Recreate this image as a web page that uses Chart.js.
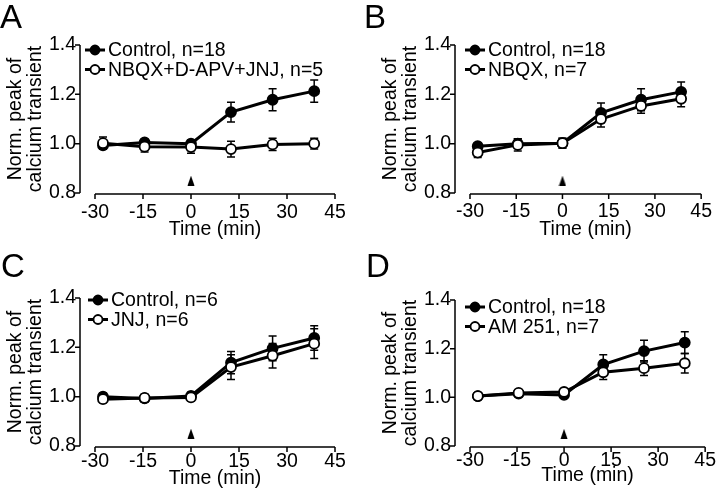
<!DOCTYPE html>
<html>
<head>
<meta charset="utf-8">
<script src="https://cdn.jsdelivr.net/npm/chart.js@4.4.0/dist/chart.umd.min.js"></script>
<style>
  html, body { margin: 0; padding: 0; background: #fff; }
  #wrap { position: relative; width: 720px; height: 492px; overflow: hidden; }
  .panel { position: absolute; width: 360px; height: 246px; }
  .panel canvas { position: absolute; left: 0; top: 0; }
  .tag { position: absolute; font: 33px "Liberation Sans", Arial, sans-serif; line-height: 30px; color: #000; }
</style>
</head>
<body>
<div id="wrap">
  <div class="panel" style="left:0;top:0"><canvas id="cA" width="360" height="246"></canvas><div class="tag" style="left:0;top:2px">A</div></div>
  <div class="panel" style="left:360px;top:0"><canvas id="cB" width="360" height="246"></canvas><div class="tag" style="left:4px;top:2px">B</div></div>
  <div class="panel" style="left:0;top:246px"><canvas id="cC" width="360" height="246"></canvas><div class="tag" style="left:1px;top:5px">C</div></div>
  <div class="panel" style="left:360px;top:246px"><canvas id="cD" width="360" height="246"></canvas><div class="tag" style="left:6px;top:5px">D</div></div>
</div>
<script>
// time points (min) shared by all panels
const time = [-27.5, -14.5, 0, 12.5, 25.5, 38.5];
const xTicks = [-30, -15, 0, 15, 30, 45];
const yTicks = [0.8, 1.0, 1.2, 1.4];
const arrowTime = [0];
const arrowLevel = [0.85];

// A
const ctrlA = [0.993, 1.005, 1.0, 1.128, 1.178, 1.213];
const ctrlAErr = [0.012, 0.012, 0.015, 0.04, 0.045, 0.045];
const trtA = [1.002, 0.988, 0.986, 0.978, 0.997, 1.0];
const trtAErr = [0.025, 0.022, 0.025, 0.032, 0.025, 0.022];
// B
const ctrlB = [0.99, 1.0, 1.002, 1.125, 1.178, 1.21];
const ctrlBErr = [0.01, 0.02, 0.02, 0.04, 0.045, 0.04];
const trtB = [0.964, 0.995, 1.002, 1.1, 1.153, 1.182];
const trtBErr = [0.02, 0.025, 0.02, 0.032, 0.03, 0.032];
// C
const ctrlC = [1.0, 0.993, 1.003, 1.138, 1.196, 1.238];
const ctrlCErr = [0.015, 0.015, 0.015, 0.045, 0.05, 0.05];
const trtC = [0.99, 0.995, 0.997, 1.12, 1.166, 1.215];
const trtCErr = [0.015, 0.015, 0.015, 0.05, 0.05, 0.06];
// D
const ctrlD = [1.005, 1.015, 1.01, 1.135, 1.19, 1.225];
const ctrlDErr = [0.01, 0.01, 0.01, 0.04, 0.045, 0.045];
const trtD = [1.005, 1.018, 1.022, 1.103, 1.12, 1.14];
const trtDErr = [0.01, 0.01, 0.01, 0.03, 0.03, 0.04];

const FONT = '"Liberation Sans", Arial, sans-serif';
const FS = 19.5;

// tall arrowhead used as point style
const arrowImg = document.createElement("canvas");
arrowImg.width = 8;
arrowImg.height = 10;
(function () {
  const c = arrowImg.getContext("2d");
  c.fillStyle = "#000";
  c.beginPath();
  c.moveTo(4, 0);
  c.lineTo(7.5, 10);
  c.lineTo(0.5, 10);
  c.closePath();
  c.fill();
})();

function pts(xs, ys) {
  return xs.map((x, i) => ({ x: x, y: ys[i] }));
}

// axes drawn detached like the original figure
const axesPlugin = {
  id: "axesLines",
  afterDraw(chart) {
    const { ctx, chartArea, scales } = chart;
    const x = scales.x, y = scales.y;
    const ax = chartArea.left - 15;
    const ay = chartArea.bottom + 1;
    ctx.save();
    ctx.strokeStyle = "#000";
    ctx.lineWidth = 1.5;
    ctx.beginPath();
    ctx.moveTo(ax, y.getPixelForValue(1.4));
    ctx.lineTo(ax, y.getPixelForValue(0.8));
    yTicks.forEach(v => {
      const py = y.getPixelForValue(v);
      ctx.moveTo(ax - 5, py);
      ctx.lineTo(ax, py);
    });
    ctx.moveTo(x.getPixelForValue(-30), ay);
    ctx.lineTo(x.getPixelForValue(45), ay);
    xTicks.forEach(v => {
      const px = x.getPixelForValue(v);
      ctx.moveTo(px, ay);
      ctx.lineTo(px, ay + 5);
    });
    ctx.stroke();
    ctx.restore();
  },
};

const errorBars = {
  id: "errorBars",
  beforeDatasetsDraw(chart) {
    const { ctx } = chart;
    const y = chart.scales.y;
    ctx.save();
    ctx.strokeStyle = "#000";
    ctx.lineWidth = 1.5;
    chart.data.datasets.forEach((ds, i) => {
      if (!ds.errors) return;
      chart.getDatasetMeta(i).data.forEach((el, j) => {
        const v = ds.data[j].y, e = ds.errors[j];
        const top = y.getPixelForValue(v + e);
        const bot = y.getPixelForValue(v - e);
        ctx.beginPath();
        ctx.moveTo(el.x, top);
        ctx.lineTo(el.x, bot);
        ctx.moveTo(el.x - 4, top);
        ctx.lineTo(el.x + 4, top);
        ctx.moveTo(el.x - 4, bot);
        ctx.lineTo(el.x + 4, bot);
        ctx.stroke();
      });
    });
    ctx.restore();
  },
};

const legendBox = {
  id: "legendBox",
  afterDraw(chart, args, opts) {
    const { ctx } = chart;
    ctx.save();
    ctx.font = FS + "px " + FONT;
    ctx.textBaseline = "middle";
    ctx.fillStyle = "#000";
    let row = 0;
    chart.data.datasets.forEach(ds => {
      if (!ds.legendText) return;
      const ly = opts.y + row * 19.5;
      ctx.strokeStyle = "#000";
      ctx.lineWidth = 3;
      ctx.beginPath();
      ctx.moveTo(opts.x, ly);
      ctx.lineTo(opts.x + 20, ly);
      ctx.stroke();
      ctx.beginPath();
      ctx.arc(opts.x + 10, ly, 4.5, 0, Math.PI * 2);
      ctx.fillStyle = ds.pointBackgroundColor;
      ctx.fill();
      ctx.lineWidth = 1.8;
      ctx.stroke();
      ctx.fillStyle = "#000";
      ctx.fillText(ds.legendText, opts.x + 23, ly + 1);
      row++;
    });
    ctx.restore();
  },
};

function makePanel(id, g, ctrlLabel, ctrl, ctrlErr, trtLabel, trt, trtErr) {
  const series = (label, ys, errs, fill, order) => ({
    legendText: label,
    data: pts(time, ys),
    errors: errs,
    borderColor: "#000",
    borderWidth: 3,
    pointRadius: 5,
    pointBorderWidth: 1.8,
    pointBackgroundColor: fill,
    pointBorderColor: "#000",
    tension: 0,
    order: order,
  });
  return new Chart(document.getElementById(id), {
    type: "line",
    data: {
      datasets: [
        series(ctrlLabel, ctrl, ctrlErr, "#000", 2),
        series(trtLabel, trt, trtErr, "#fff", 1),
        {
          data: pts(arrowTime, arrowLevel),
          showLine: false,
          pointStyle: arrowImg,
          pointRadius: 5,
          order: 0,
        },
      ],
    },
    options: {
      responsive: false,
      animation: false,
      events: [],
      layout: { padding: { left: g.left, right: g.right, top: g.top, bottom: 0 } },
      scales: {
        x: {
          type: "linear",
          min: -30,
          max: 45,
          afterFit: s => { s.height = 246 - g.bottom; },
          afterBuildTicks: s => { s.ticks = xTicks.map(v => ({ value: v })); },
          grid: { display: false, drawTicks: false },
          border: { display: false },
          ticks: { padding: g.xPad, color: "#000", font: { size: FS, family: FONT, lineHeight: 1.1 }, maxRotation: 0 },
          title: { display: true, text: "Time (min)", color: "#000", font: { size: FS, family: FONT, lineHeight: 1.1 }, padding: { top: 0, bottom: g.titlePad } },
        },
        y: {
          min: 0.8,
          max: 1.4,
          afterFit: s => { s.width = 95; },
          afterBuildTicks: s => { s.ticks = yTicks.map(v => ({ value: v })); },
          grid: { display: false, drawTicks: false },
          border: { display: false },
          ticks: { padding: 19, color: "#000", font: { size: FS, family: FONT }, callback: v => v.toFixed(1) },
          title: { display: true, text: ["Norm. peak of", "calcium transient"], color: "#000", font: { size: FS, family: FONT, lineHeight: 1.02 }, padding: { top: 6, bottom: 0 } },
        },
      },
      plugins: {
        legend: { display: false },
        tooltip: { enabled: false },
        legendBox: { x: g.lx, y: g.ly },
      },
    },
    plugins: [errorBars, axesPlugin, legendBox],
  });
}

makePanel("cA", { left: 0, right: 25, top: 45, bottom: 193, xPad: 9, titlePad: 6, lx: 85, ly: 50 },
  "Control, n=18", ctrlA, ctrlAErr, "NBQX+D-APV+JNJ, n=5", trtA, trtAErr);
makePanel("cB", { left: 15, right: 10, top: 45, bottom: 193, xPad: 8, titlePad: 6, lx: 105, ly: 50 },
  "Control, n=18", ctrlB, ctrlBErr, "NBQX, n=7", trtB, trtBErr);
makePanel("cC", { left: 0, right: 25, top: 52, bottom: 200, xPad: 5, titlePad: 3, lx: 88, ly: 54 },
  "Control, n=6", ctrlC, ctrlCErr, "JNJ, n=6", trtC, trtCErr);
makePanel("cD", { left: 15, right: 10, top: 54, bottom: 200, xPad: 4, titlePad: 6, lx: 105, ly: 61 },
  "Control, n=18", ctrlD, ctrlDErr, "AM 251, n=7", trtD, trtDErr);
</script>
</body>
</html>
